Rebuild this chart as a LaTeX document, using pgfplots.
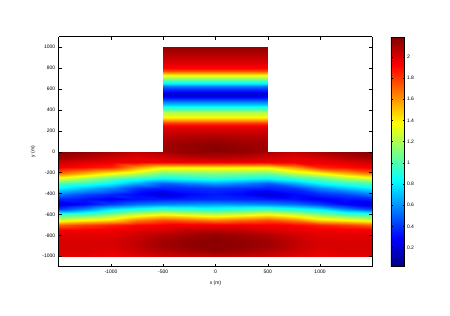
\documentclass[border=0pt]{standalone}
\usepackage{fontspec}
\setmainfont{Liberation Sans}
\usepackage{pgfplots}
\pgfplotsset{compat=1.18}
\pgfplotsset{every axis/.append style={
  font=\fontsize{5}{6}\selectfont,
  /pgf/number format/assume math mode=true,
  /pgf/number format/1000 sep={}}}
\begin{document}
\begin{tikzpicture}
\path[use as bounding box] (-58.7pt,-49.3pt) rectangle (391.3pt,266.7pt);
\begin{axis}[
  at={(0,0)}, anchor=south west,
  scale only axis, width=313.6pt, height=230pt,
  view={0}{90},
  xmin=-1500, xmax=1500, ymin=-1100, ymax=1100,
  xtick={-1000,-500,0,500,1000},
  ytick={-1000,-800,-600,-400,-200,0,200,400,600,800,1000},
  ztick=\empty,
  xtick pos=both, ytick pos=both,
  tick align=inside, major tick length=3pt,
  tick style={black, line width=0.4pt},
  axis line style={line width=0.5pt},
  xlabel={x (m)}, ylabel={y (m)},
  xlabel style={at={(axis description cs:0.5,-0.071)}, anchor=center},
  ylabel style={at={(axis description cs:-0.082,0.5)}, anchor=center},
  colormap/jet,
  point meta min=0.02, point meta max=2.19,
  colorbar,
  colorbar style={
    at={(parent axis.north east)}, anchor=north west, xshift=10pt,
    width=13.7pt,
    ytick={0.2,0.4,0.6,0.8,1,1.2,1.4,1.6,1.8,2},
    tick align=inside, major tick length=2pt,
    yticklabel style={xshift=-1pt},
  },
]
% lower part of the T, x = -1500 ... 1500 step 250, y = 0 ... -1000 step 50
\addplot3[surf, shader=interp, mesh/cols=13] coordinates {
(-1500,0,2.17) (-1250,0,2.15) (-1000,0,2.10) (-750,0,2.05) (-500,0,2.10) (-250,0,2.15) (0,0,2.15) (250,0,2.15) (500,0,2.10) (750,0,2.05) (1000,0,2.10) (1250,0,2.15) (1500,0,2.17)
(-1500,-50,2.12) (-1250,-50,2.08) (-1000,-50,2.02) (-750,-50,1.98) (-500,-50,2.02) (-250,-50,2.06) (0,-50,2.08) (250,-50,2.06) (500,-50,2.02) (750,-50,1.98) (1000,-50,2.02) (1250,-50,2.08) (1500,-50,2.12)
(-1500,-100,2.02) (-1250,-100,1.98) (-1000,-100,1.96) (-750,-100,1.95) (-500,-100,1.94) (-250,-100,1.95) (0,-100,1.95) (250,-100,1.95) (500,-100,1.94) (750,-100,1.95) (1000,-100,1.96) (1250,-100,1.98) (1500,-100,2.02)
(-1500,-150,1.95) (-1250,-150,1.90) (-1000,-150,1.85) (-750,-150,1.60) (-500,-150,1.42) (-250,-150,1.42) (0,-150,1.43) (250,-150,1.42) (500,-150,1.42) (750,-150,1.60) (1000,-150,1.85) (1250,-150,1.90) (1500,-150,1.95)
(-1500,-200,1.70) (-1250,-200,1.55) (-1000,-200,1.39) (-750,-200,1.25) (-500,-200,1.08) (-250,-200,1.10) (0,-200,1.12) (250,-200,1.10) (500,-200,1.08) (750,-200,1.25) (1000,-200,1.39) (1250,-200,1.55) (1500,-200,1.70)
(-1500,-250,1.33) (-1250,-250,1.20) (-1000,-250,1.05) (-750,-250,0.95) (-500,-250,0.86) (-250,-250,0.90) (0,-250,0.94) (250,-250,0.90) (500,-250,0.86) (750,-250,0.95) (1000,-250,1.05) (1250,-250,1.20) (1500,-250,1.33)
(-1500,-300,1.00) (-1250,-300,0.95) (-1000,-300,0.84) (-750,-300,0.66) (-500,-300,0.50) (-250,-300,0.58) (0,-300,0.64) (250,-300,0.58) (500,-300,0.50) (750,-300,0.66) (1000,-300,0.84) (1250,-300,0.95) (1500,-300,1.00)
(-1500,-350,0.82) (-1250,-350,0.70) (-1000,-350,0.58) (-750,-350,0.40) (-500,-350,0.36) (-250,-350,0.38) (0,-350,0.40) (250,-350,0.38) (500,-350,0.36) (750,-350,0.40) (1000,-350,0.58) (1250,-350,0.70) (1500,-350,0.82)
(-1500,-400,0.56) (-1250,-400,0.45) (-1000,-400,0.38) (-750,-400,0.30) (-500,-400,0.20) (-250,-400,0.30) (0,-400,0.34) (250,-400,0.30) (500,-400,0.20) (750,-400,0.30) (1000,-400,0.38) (1250,-400,0.45) (1500,-400,0.56)
(-1500,-450,0.36) (-1250,-450,0.32) (-1000,-450,0.27) (-750,-450,0.33) (-500,-450,0.35) (-250,-450,0.37) (0,-450,0.38) (250,-450,0.37) (500,-450,0.35) (750,-450,0.33) (1000,-450,0.27) (1250,-450,0.32) (1500,-450,0.36)
(-1500,-500,0.22) (-1250,-500,0.30) (-1000,-500,0.42) (-750,-500,0.53) (-500,-500,0.58) (-250,-500,0.60) (0,-500,0.62) (250,-500,0.60) (500,-500,0.58) (750,-500,0.53) (1000,-500,0.42) (1250,-500,0.30) (1500,-500,0.22)
(-1500,-550,0.42) (-1250,-550,0.58) (-1000,-550,0.80) (-750,-550,0.90) (-500,-550,0.97) (-250,-550,0.94) (0,-550,0.90) (250,-550,0.94) (500,-550,0.97) (750,-550,0.90) (1000,-550,0.80) (1250,-550,0.58) (1500,-550,0.42)
(-1500,-600,0.92) (-1250,-600,0.98) (-1000,-600,1.10) (-750,-600,1.25) (-500,-600,1.35) (-250,-600,1.28) (0,-600,1.22) (250,-600,1.28) (500,-600,1.35) (750,-600,1.25) (1000,-600,1.10) (1250,-600,0.98) (1500,-600,0.92)
(-1500,-650,1.30) (-1250,-650,1.38) (-1000,-650,1.45) (-750,-650,1.65) (-500,-650,1.75) (-250,-650,1.70) (0,-650,1.64) (250,-650,1.70) (500,-650,1.75) (750,-650,1.65) (1000,-650,1.45) (1250,-650,1.38) (1500,-650,1.30)
(-1500,-700,1.72) (-1250,-700,1.80) (-1000,-700,1.86) (-750,-700,1.92) (-500,-700,1.95) (-250,-700,1.96) (0,-700,1.96) (250,-700,1.96) (500,-700,1.95) (750,-700,1.92) (1000,-700,1.86) (1250,-700,1.80) (1500,-700,1.72)
(-1500,-750,1.94) (-1250,-750,1.94) (-1000,-750,1.95) (-750,-750,1.98) (-500,-750,2.00) (-250,-750,2.05) (0,-750,2.06) (250,-750,2.05) (500,-750,2.00) (750,-750,1.98) (1000,-750,1.95) (1250,-750,1.94) (1500,-750,1.94)
(-1500,-800,1.98) (-1250,-800,1.98) (-1000,-800,1.98) (-750,-800,2.02) (-500,-800,2.08) (-250,-800,2.12) (0,-800,2.15) (250,-800,2.12) (500,-800,2.08) (750,-800,2.02) (1000,-800,1.98) (1250,-800,1.98) (1500,-800,1.98)
(-1500,-850,2.00) (-1250,-850,2.00) (-1000,-850,2.00) (-750,-850,2.05) (-500,-850,2.12) (-250,-850,2.15) (0,-850,2.17) (250,-850,2.15) (500,-850,2.12) (750,-850,2.05) (1000,-850,2.00) (1250,-850,2.00) (1500,-850,2.00)
(-1500,-900,2.00) (-1250,-900,2.00) (-1000,-900,2.00) (-750,-900,2.05) (-500,-900,2.12) (-250,-900,2.15) (0,-900,2.17) (250,-900,2.15) (500,-900,2.12) (750,-900,2.05) (1000,-900,2.00) (1250,-900,2.00) (1500,-900,2.00)
(-1500,-950,2.00) (-1250,-950,2.00) (-1000,-950,1.98) (-750,-950,2.03) (-500,-950,2.08) (-250,-950,2.12) (0,-950,2.15) (250,-950,2.12) (500,-950,2.08) (750,-950,2.03) (1000,-950,1.98) (1250,-950,2.00) (1500,-950,2.00)
(-1500,-1000,1.98) (-1250,-1000,1.97) (-1000,-1000,1.95) (-750,-1000,1.98) (-500,-1000,2.02) (-250,-1000,2.04) (0,-1000,2.05) (250,-1000,2.04) (500,-1000,2.02) (750,-1000,1.98) (1000,-1000,1.95) (1250,-1000,1.97) (1500,-1000,1.98)
};
% upper part of the T, x = -500 ... 500
\addplot3[surf, shader=interp, mesh/cols=3] coordinates {
(-500,0,2.12) (0,0,2.17) (500,0,2.12)
(-500,50,2.12) (0,50,2.17) (500,50,2.12)
(-500,100,2.10) (0,100,2.14) (500,100,2.10)
(-500,150,2.06) (0,150,2.09) (500,150,2.06)
(-500,200,2.02) (0,200,2.03) (500,200,2.02)
(-500,250,1.95) (0,250,1.95) (500,250,1.95)
(-500,275,1.80) (0,275,1.80) (500,275,1.80)
(-500,300,1.58) (0,300,1.58) (500,300,1.58)
(-500,325,1.43) (0,325,1.43) (500,325,1.43)
(-500,350,1.30) (0,350,1.30) (500,350,1.30)
(-500,375,1.20) (0,375,1.20) (500,375,1.20)
(-500,400,1.05) (0,400,1.05) (500,400,1.05)
(-500,425,0.90) (0,425,0.90) (500,425,0.90)
(-500,450,0.74) (0,450,0.74) (500,450,0.74)
(-500,475,0.58) (0,475,0.58) (500,475,0.58)
(-500,500,0.40) (0,500,0.40) (500,500,0.40)
(-500,525,0.30) (0,525,0.30) (500,525,0.30)
(-500,550,0.18) (0,550,0.18) (500,550,0.18)
(-500,575,0.30) (0,575,0.30) (500,575,0.30)
(-500,600,0.40) (0,600,0.40) (500,600,0.40)
(-500,625,0.56) (0,625,0.56) (500,625,0.56)
(-500,650,0.76) (0,650,0.76) (500,650,0.76)
(-500,675,0.95) (0,675,0.95) (500,675,0.95)
(-500,700,1.10) (0,700,1.10) (500,700,1.10)
(-500,725,1.32) (0,725,1.32) (500,725,1.32)
(-500,750,1.56) (0,750,1.56) (500,750,1.56)
(-500,775,1.75) (0,775,1.75) (500,775,1.75)
(-500,800,1.92) (0,800,1.92) (500,800,1.92)
(-500,850,1.98) (0,850,1.98) (500,850,1.98)
(-500,900,2.04) (0,900,2.04) (500,900,2.04)
(-500,950,2.10) (0,950,2.10) (500,950,2.10)
(-500,1000,2.15) (0,1000,2.15) (500,1000,2.15)
};
\end{axis}
\end{tikzpicture}
\end{document}
